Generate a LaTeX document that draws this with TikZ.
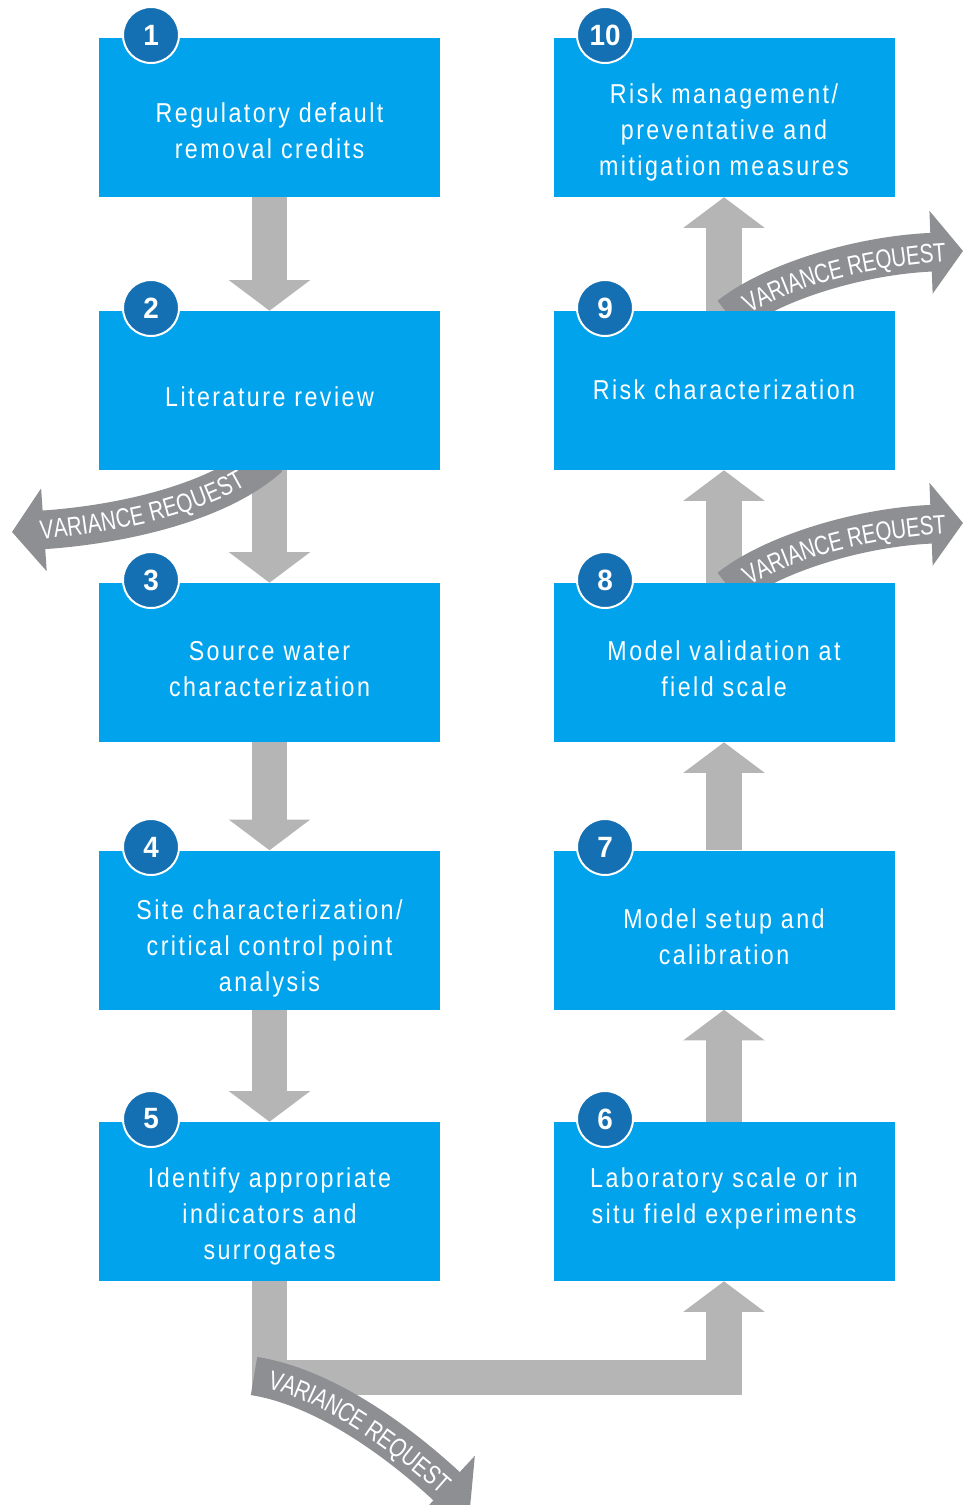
\documentclass[tikz,border=0pt]{standalone}
\usepackage{fontspec}
\setmainfont{Liberation Sans}[FakeStretch=0.85,LetterSpace=9]
\newfontfamily\numfont{Liberation Sans}[FakeStretch=0.95]
\newfontfamily\bandfont{Liberation Sans}[FakeStretch=0.77]
\usepackage{xcolor}
\usetikzlibrary{
    arrows.meta,
    backgrounds,
    calc,
    decorations.text
}
\definecolor{boxblue}{RGB}{0,163,236}
\definecolor{numblue}{RGB}{20,112,178}
\definecolor{flowgray}{RGB}{181,181,181}
\definecolor{bandgray}{RGB}{142,143,147}

\begin{document}
\begin{tikzpicture}[x=0.75pt,y=-0.75pt,line join=miter]
    \tikzstyle{stepbox}=[fill=boxblue, minimum width=255.75pt, minimum height=119.25pt, inner sep=0pt]
    \tikzstyle{steptext}=[text=white, align=center, inner sep=0pt, font=\fontsize{20.5}{27}\selectfont]
    \tikzstyle{num}=[circle, fill=numblue, draw=white, line width=1.5pt, minimum size=42pt, inner sep=0pt, text=white, font=\numfont\bfseries\fontsize{22}{22}\selectfont]
    \tikzstyle{flow}=[draw=flowgray, line width=26.5pt, -{Triangle[width=60pt,length=23pt]}]
    \tikzstyle{variance}=[draw=bandgray, line width=29pt, -{Triangle[width=61pt,length=24pt]}, decoration={text along path, raise=-7.2pt, text color=white, text={|\bandfont\fontsize{20}{20}\selectfont|VARIANCE REQUEST}}, postaction={decorate}]
    \useasboundingbox (0,0) rectangle (963,1505);
    % left column, top to bottom
    \node[stepbox] (b1) at (269.5, 117.5) {};
    \node[stepbox] (b2) at (269.5, 390.5) {};
    \node[stepbox] (b3) at (269.5, 662.5) {};
    \node[stepbox] (b4) at (269.5, 930) {};
    \node[stepbox] (b5) at (269.5, 1201.5) {};
    % right column, bottom to top
    \node[stepbox] (b6) at (724, 1201.5) {};
    \node[stepbox] (b7) at (724, 930) {};
    \node[stepbox] (b8) at (724, 662.5) {};
    \node[stepbox] (b9) at (724, 390.5) {};
    \node[stepbox] (b10) at (724, 117.5) {};
    \node[steptext] (t1) at ($(b1)+(0,13)$) {Regulatory default\\removal credits};
    \node[steptext] (t2) at ($(b2)+(0,6)$) {Literature review};
    \node[steptext] (t3) at ($(b3)+(0,7)$) {Source water\\characterization};
    \node[steptext] (t4) at ($(b4)+(0,18)$) {Site characterization/\\critical control point\\analysis};
    \node[steptext] (t5) at ($(b5)+(0,15)$) {Identify appropriate\\indicators and\\surrogates};
    \node[steptext] (t6) at ($(b6)+(0,-3)$) {Laboratory scale or in\\situ field experiments};
    \node[steptext] (t7) at ($(b7)+(0,7)$) {Model setup and\\calibration};
    \node[steptext] (t8) at ($(b8)+(0,6)$) {Model validation at\\field scale};
    \node[steptext] (t9) at ($(b9)+(0,-1)$) {Risk characterization};
    \node[steptext] (t10) at ($(b10)+(0,15)$) {Risk management/\\preventative and\\mitigation measures};
    \coordinate (v2) at (12, 532);
    \coordinate (v9) at (963, 251);
    \coordinate (v8) at (963, 523);
    \coordinate (v5s) at (254, 1376);
    \coordinate (v5) at (470, 1508);
    \begin{scope}[on background layer]
    \path (b1) edge[flow] (b2) (b2) edge[flow] (b3) (b3) edge[flow] (b4) (b4) edge[flow] (b5);
    \path (b6) edge[flow] (b7) (b7) edge[flow] (b8) (b8) edge[flow] (b9) (b9) edge[flow] (b10);
    \draw[flow] (b5.south) -- ++(0,96) -| (b6.south);
    \draw[variance, decoration={reverse path, text align={align=left, left indent=21pt}}] ([yshift=10pt]b2.south) .. controls (222,500) and (130,524) .. (v2);
    \draw[variance, decoration={text align={align=left, left indent=14pt}}] ([xshift=4pt,yshift=-4pt]b9.north) .. controls (772,282) and (860,255) .. (v9);
    \draw[variance, decoration={text align={align=left, left indent=14pt}}] ([xshift=4pt,yshift=-4pt]b8.north) .. controls (772,554) and (860,527) .. (v8);
    \draw[variance, decoration={text align={align=left, left indent=12pt}}] (v5s) .. controls (324,1387) and (398,1441) .. (v5);
    \end{scope}
    \foreach \i/\x/\y in {1/151/35, 2/151/308, 3/151/580, 4/151/847, 5/151/1119, 6/605/1119, 7/605/847, 8/605/580, 9/605/308, 10/605/35}
        \node[num] (n\i) at (\x,\y) {\i};
\end{tikzpicture}
\end{document}
